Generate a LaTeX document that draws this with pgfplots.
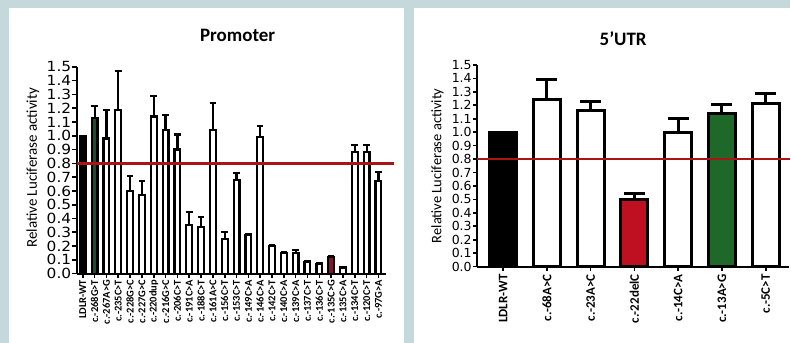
\documentclass[border=0pt]{standalone}
\usepackage{pgfplots}
\pgfplotsset{compat=1.18}
\usepackage{fontspec}
\setmainfont{Carlito}
\newfontfamily\tickfont[FakeStretch=1.1]{DejaVu Sans}
\newfontfamily\tickfontb{DejaVu Sans}
\definecolor{bgblue}{RGB}{197,217,221}
\definecolor{refred}{RGB}{170,20,20}
\definecolor{barred}{RGB}{190,16,32}
\definecolor{bargreen}{RGB}{30,105,42}
\definecolor{darkgreen}{RGB}{32,78,45}
\definecolor{maroon}{RGB}{130,20,50}
\pgfplotstableread{
x y e
2 0.98 0.21
3 1.19 0.28
4 0.60 0.11
5 0.57 0.10
6 1.14 0.15
7 1.04 0.11
8 0.90 0.11
9 0.35 0.10
10 0.34 0.07
11 1.04 0.20
12 0.25 0.05
13 0.68 0.05
14 0.28 0.005
15 0.99 0.08
16 0.20 0.005
17 0.15 0.005
18 0.15 0.02
19 0.085 0.005
20 0.07 0.005
22 0.045 0.005
23 0.88 0.055
24 0.88 0.055
25 0.67 0.07
}\promwhite
\pgfplotstableread{
x y e
1 1.245 0.145
2 1.16 0.065
4 1.00 0.105
6 1.215 0.07
}\utrwhite
\pgfplotsset{
  panel/.style={
    scale only axis, anchor=south west,
    ymin=0, ymax=1.5,
    axis lines*=left,
    axis line style={line width=2pt,-},
    tick style={line width=1.6pt,black},
    major tick length=4.5pt, tick align=outside,
    ytick={0,0.1,0.2,0.3,0.4,0.5,0.6,0.7,0.8,0.9,1.0,1.1,1.2,1.3,1.4,1.5},
    yticklabel style={/pgf/number format/fixed,/pgf/number format/fixed zerofill,/pgf/number format/precision=1,/pgf/number format/assume math mode=true},
    ybar, bar shift=0pt,
    clip=false,
  },
  lbar/.style={draw=black, line width=2.2pt,
    error bars/.cd, y dir=plus, y explicit,
    error bar style={line width=2.2pt},
    error mark options={rotate=90, mark size=3.3pt, line width=2.2pt}},
  rbar/.style={draw=black, line width=3pt,
    error bars/.cd, y dir=plus, y explicit,
    error bar style={line width=3pt},
    error mark options={rotate=90, mark size=10.5pt, line width=3pt}},
}
\begin{document}
\begin{tikzpicture}[x=1pt,y=1pt]
\fill[bgblue] (0,0) rectangle (791,343);
\fill[white] (9,0) rectangle (405,335);
\fill[white] (415,0) rectangle (791,335);
\node[font=\bfseries\fontsize{19}{19}\selectfont] at (238,308) {Promoter};
\node[font=\bfseries\fontsize{19}{19}\selectfont] at (624,304) {5'UTR};
\node[rotate=90,font=\fontsize{15}{15}\selectfont] at (33,175) {Relative Luciferase activity};
\node[rotate=90,font=\fontsize{14.5}{14.5}\selectfont] at (438,177) {Relative Luciferase activity};
% Promoter
\begin{axis}[panel,
  at={(77pt,69pt)}, width=310pt, height=207pt,
  xmin=-0.5, xmax=25.68,
  bar width=5.8pt,
  yticklabel style={font=\tickfont\fontsize{14}{14}\selectfont, inner sep=1pt},
  xtick={0,...,25},
  xticklabels={LDLR-WT,c.-268G>T,c.-267A>G,c.-235C>T,c.-228G>C,c.-227G>C,c.-220dup,c.-216G>C,c.-206C>T,c.-191C>A,c.-188C>T,c.-161A>C,c.-156C>T,c.-153C>T,c.-149C>A,c.-146C>A,c.-142C>T,c.-140C>A,c.-139C>A,c.-137C>T,c.-136C>T,c.-135C>G,c.-135C>A,c.-134C>T,c.-120C>T,c.-97G>A},
  xticklabel style={rotate=90, anchor=east, font=\bfseries\fontsize{10.5}{10.5}\selectfont, inner sep=1.5pt},
]
\addplot[fill=white, lbar] table[x=x, y=y, y error=e] {\promwhite};
\addplot[fill=black, draw=black, line width=2.2pt] coordinates {(0,1.0)};
\addplot[fill=darkgreen, lbar] coordinates {(1,1.13) +- (0,0.085)};
\addplot[fill=maroon, lbar] coordinates {(21,0.12) +- (0,0.01)};
\draw[refred, line width=2.4pt] (axis cs:-0.5,0.8) -- (axis cs:26.35,0.8);
\end{axis}
% 5'UTR
\begin{axis}[panel,
  at={(478pt,76pt)}, width=312pt, height=202pt,
  xmin=-0.59, xmax=6.53,
  bar width=27pt,
  yticklabel style={font=\tickfontb\fontsize{12.5}{12.5}\selectfont, inner sep=1pt},
  xtick={0,...,6},
  xticklabels={LDLR-WT,c.-68A>C,c.-23A>C,c.-22delC,c.-14C>A,c.-13A>G,c.-5C>T},
  xticklabel style={rotate=90, anchor=east, font=\bfseries\fontsize{13}{13}\selectfont, inner sep=3pt},
]
\addplot[fill=white, rbar] table[x=x, y=y, y error=e] {\utrwhite};
\addplot[fill=black, draw=black, line width=3pt] coordinates {(0,1.0)};
\addplot[fill=barred, rbar] coordinates {(3,0.50) +- (0,0.045)};
\addplot[fill=bargreen, rbar] coordinates {(5,1.135) +- (0,0.07)};
\draw[refred, line width=2.4pt] (axis cs:-0.59,0.8) -- (axis cs:6.55,0.8);
\end{axis}
\end{tikzpicture}
\end{document}
